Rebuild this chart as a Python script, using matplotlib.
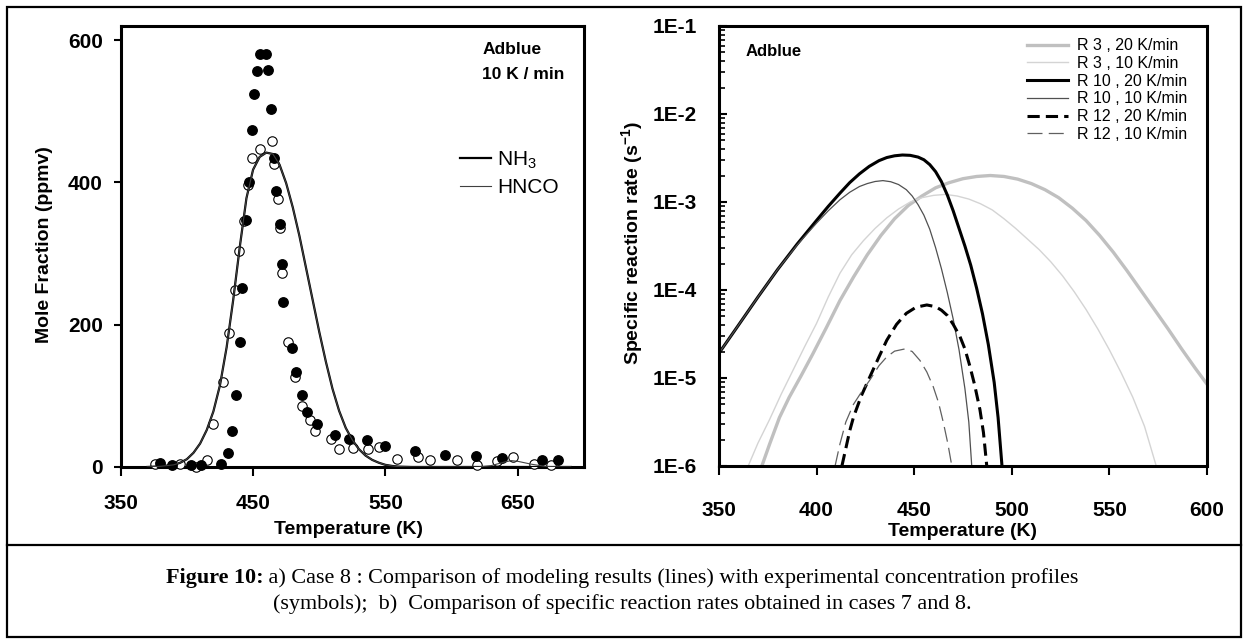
import matplotlib
matplotlib.use('Agg')
import matplotlib.pyplot as plt
from matplotlib.lines import Line2D
from matplotlib.patches import Rectangle
from matplotlib.ticker import LogLocator, NullFormatter

# ---- panel a) : experimental profiles (symbols) + model (lines) ----
nh3_T = [380, 389, 403, 411, 426, 431, 434, 437, 440, 441.6, 444.6, 447, 449, 450.9, 453, 455,
         459.9, 461, 463.4, 466, 467.6, 470.3, 471.8, 472.7, 479.6, 482.8, 486.7, 490.6, 498,
         511.8, 522.8, 536, 550, 572.4, 594.8, 618.7, 638, 668, 680]
nh3_ppm = [6, 3, 3, 3, 4, 19, 50, 101, 176, 251, 347, 401, 474, 525, 557, 580,
           581, 558, 503, 435, 388, 342, 285, 232, 168, 134, 101, 77, 60,
           45, 39, 38, 29, 22, 17, 15, 13, 10, 10]

hnco_T = [376, 395, 407, 415, 420, 427, 431.5, 436, 439, 443, 446, 449, 455, 464, 465.5, 469,
          470.3, 471.8, 476.6, 481.6, 487, 492.7, 497, 509, 515, 525.5, 536.6, 545.5, 559,
          574.5, 584, 604, 619, 634, 646, 662, 675]
hnco_ppm = [4, 4, 0, 10, 61, 120, 188, 249, 304, 346, 397, 434, 447, 459, 426, 377,
            336, 273, 176, 126, 86, 66, 50, 40, 25, 27, 26, 28, 11,
            14, 10, 10, 3, 8, 14, 4, 3]

model_T = [370, 380, 390, 395, 400, 405, 410, 415, 420, 425, 430, 435, 440, 445, 450, 455, 460,
           465, 470, 475, 480, 485, 490, 495, 500, 505, 510, 515, 520, 525, 530, 535, 540, 545,
           550, 555, 560, 570, 580, 590, 600, 610, 620, 630, 640, 645, 650, 660, 670, 680, 690]
nh3_model = [0, 1, 3, 6, 11, 20, 33, 52, 78, 115, 168, 235, 310, 378, 418, 436, 442,
             440, 425, 399, 365, 325, 280, 235, 190, 148, 110, 79, 55, 38, 25, 16, 10, 6,
             3, 1.5, 0.5, 0, 0, 0, 0, 0, 0, 0, 0, 0, 0, 0, 0, 0, 0]
hnco_model = [0, 1, 3, 6, 11, 20, 33, 52, 78, 115, 168, 235, 310, 378, 418, 436, 442,
              440, 425, 399, 365, 325, 280, 235, 190, 148, 110, 79, 55, 38, 25, 16, 10, 6,
              3, 1.5, 0.5, 0, 0, 0, 0, 0, 0, 2, 7, 9, 8, 4, 1, 0, 0]

# ---- panel b) : specific reaction rates (s-1) ----
r3_20_T = [372, 376, 381, 386, 392, 398, 405, 412, 419, 426, 433, 440, 447, 454, 461, 468, 475,
           482, 489, 496, 503, 510, 517, 524, 531, 538, 545, 552, 559, 566, 573, 580, 587, 594, 600]
r3_20 = [1.0e-6, 1.78e-6, 3.55e-6, 6.03e-6, 1.05e-5, 1.86e-5, 3.72e-5, 7.59e-5, 1.41e-4,
         2.51e-4, 4.17e-4, 6.46e-4, 9.12e-4, 1.17e-3, 1.45e-3, 1.66e-3, 1.84e-3, 1.95e-3,
         2.0e-3, 1.95e-3, 1.82e-3, 1.62e-3, 1.38e-3, 1.12e-3, 8.51e-4, 6.17e-4, 4.17e-4,
         2.69e-4, 1.66e-4, 1.0e-4, 6.03e-5, 3.63e-5, 2.14e-5, 1.29e-5, 8.51e-6]

r3_10_T = [365, 370, 376, 382, 388, 394, 400, 406, 412, 418, 424, 430, 436, 442, 448, 454, 460,
           466, 472, 478, 484, 490, 496, 502, 508, 514, 520, 526, 532, 538, 544, 550, 556, 562,
           568, 574]
r3_10 = [1.0e-6, 1.82e-6, 3.39e-6, 6.61e-6, 1.23e-5, 2.29e-5, 4.17e-5, 8.32e-5, 1.55e-4,
         2.51e-4, 3.63e-4, 5.01e-4, 6.61e-4, 8.32e-4, 1.0e-3, 1.12e-3, 1.19e-3, 1.22e-3,
         1.17e-3, 1.08e-3, 9.55e-4, 8.13e-4, 6.46e-4, 5.01e-4, 3.80e-4, 2.88e-4, 2.09e-4,
         1.45e-4, 9.55e-5, 6.03e-5, 3.63e-5, 2.09e-5, 1.15e-5, 6.03e-6, 2.82e-6, 1.0e-6]

r10_20_T = [350, 360, 370, 380, 390, 400, 406, 412, 417, 422, 427, 432, 436, 440, 444, 448, 452,
            455, 458, 461, 464, 467, 470, 473, 476, 479, 482, 485, 488, 491, 493, 495]
r10_20 = [1.91e-5, 3.98e-5, 8.32e-5, 1.70e-4, 3.31e-4, 6.17e-4, 8.91e-4, 1.26e-3, 1.66e-3,
          2.09e-3, 2.54e-3, 2.95e-3, 3.20e-3, 3.35e-3, 3.42e-3, 3.39e-3, 3.24e-3, 3.02e-3,
          2.66e-3, 2.21e-3, 1.70e-3, 1.20e-3, 7.94e-4, 5.01e-4, 3.16e-4, 1.91e-4, 1.05e-4,
          5.37e-5, 2.40e-5, 8.91e-6, 3.55e-6, 1.0e-6]

r10_10_T = [350, 360, 370, 380, 390, 400, 406, 412, 417, 422, 426, 430, 434, 438, 442, 446, 449,
            452, 455, 458, 461, 464, 467, 470, 473, 476, 478, 479.5]
r10_10 = [1.91e-5, 3.98e-5, 8.32e-5, 1.70e-4, 3.24e-4, 5.75e-4, 7.94e-4, 1.06e-3, 1.29e-3,
          1.50e-3, 1.62e-3, 1.71e-3, 1.75e-3, 1.70e-3, 1.58e-3, 1.38e-3, 1.17e-3, 9.33e-4,
          7.08e-4, 4.90e-4, 3.02e-4, 1.74e-4, 9.33e-5, 4.68e-5, 2.09e-5, 7.59e-6, 3.16e-6, 1.0e-6]

r12_20_T = [413, 415, 417, 419, 423, 427.4, 432, 436, 441, 446, 451, 456.5, 461, 464, 467, 470,
            473.5, 476, 478.6, 481, 483.7, 485.5, 487.2]
r12_20 = [1.0e-6, 1.58e-6, 2.51e-6, 3.63e-6, 6.31e-6, 1.04e-5, 1.74e-5, 2.69e-5, 4.07e-5,
          5.43e-5, 6.38e-5, 6.76e-5, 6.46e-5, 5.89e-5, 5.13e-5, 4.07e-5, 2.95e-5, 2.14e-5,
          1.35e-5, 8.32e-6, 4.37e-6, 2.40e-6, 1.0e-6]

r12_10_T = [409.5, 412, 415, 418.9, 423, 427.4, 432, 436, 440, 445.3, 449, 453, 456.5, 459.8,
            462.5, 465, 467.3, 469.3]
r12_10 = [1.0e-6, 1.78e-6, 3.16e-6, 5.01e-6, 6.92e-6, 9.55e-6, 1.38e-5, 1.74e-5, 2.02e-5,
          2.14e-5, 2.0e-5, 1.58e-5, 1.17e-5, 7.94e-6, 5.25e-6, 3.09e-6, 1.78e-6, 1.0e-6]

left_xticks = [350, 450, 550, 650]
left_yticks = [0, 200, 400, 600]
right_xticks = [350, 400, 450, 500, 550, 600]
right_yticks = [1e-6, 1e-5, 1e-4, 1e-3, 1e-2, 1e-1]
right_ylabels = ['1E-6', '1E-5', '1E-4', '1E-3', '1E-2', '1E-1']

plt.rcParams['font.family'] = ['Liberation Sans', 'DejaVu Sans']
plt.rcParams['mathtext.fontset'] = 'custom'
plt.rcParams['mathtext.rm'] = 'Liberation Sans'
plt.rcParams['mathtext.bf'] = 'Liberation Sans:bold'
plt.rcParams['mathtext.default'] = 'regular'

W, H = 1245, 639


def box(x0, y0, x1, y1):
    # pixel box (top-left origin) -> figure fraction
    return [x0 / W, 1 - y1 / H, (x1 - x0) / W, (y1 - y0) / H]


def fx(x):
    return x / W


def fy(y):
    return 1 - y / H


fig = plt.figure(figsize=(12.45, 6.39), dpi=100)
ax1 = fig.add_axes(box(120.7, 26, 584, 467))
ax2 = fig.add_axes(box(718.9, 26, 1207, 466))

# ---- left panel ----
ax1.plot(hnco_T, hnco_ppm, 'o', ms=6.8, mfc='white', mec='black', mew=0.8, clip_on=False, zorder=3)
ax1.plot(nh3_T, nh3_ppm, 'o', ms=6.8, mfc='black', mec='black', clip_on=False, zorder=4)
ax1.plot(model_T, nh3_model, color='black', lw=1.6, label='NH$_3$', zorder=5)
ax1.plot(model_T, hnco_model, color='#404040', lw=0.8, label='HNCO', zorder=5)
ax1.set_xlim(350, 700)
ax1.set_ylim(0, 620)
ax1.set_xticks(left_xticks)
ax1.set_yticks(left_yticks)
ax1.tick_params(axis='x', direction='out', length=6.5, width=1.5, labelsize=15, pad=13)
ax1.tick_params(axis='y', direction='out', length=5, width=1.5, labelsize=15, pad=8)
for lab in ax1.get_xticklabels() + ax1.get_yticklabels():
    lab.set_fontweight('bold')
for s in ax1.spines.values():
    s.set_linewidth(2.2)
ax1.legend(loc='upper left', bbox_to_anchor=(0.732, 0.72), frameon=False, fontsize=15,
           handlelength=1.5, handletextpad=0.3, labelspacing=0.35, borderpad=0, borderaxespad=0)
ax1.text(0.78, 0.946, 'Adblue', transform=ax1.transAxes, fontsize=12.5, fontweight='bold', va='center')
ax1.text(0.78, 0.891, '10 K / min', transform=ax1.transAxes, fontsize=12.5, fontweight='bold', va='center')

# ---- right panel ----
ax2.plot(r3_20_T, r3_20, color='#c0c0c0', lw=2.4, label='R 3 , 20 K/min')
ax2.plot(r3_10_T, r3_10, color='#d4d4d4', lw=1.0, label='R 3 , 10 K/min')
ax2.plot(r10_20_T, r10_20, color='black', lw=2.2, label='R 10 , 20 K/min')
ax2.plot(r10_10_T, r10_10, color='#505050', lw=0.9, label='R 10 , 10 K/min')
ax2.plot(r12_20_T, r12_20, color='black', lw=2.2, ls=(0, (4, 2)), label='R 12 , 20 K/min')
ax2.plot(r12_10_T, r12_10, color='#606060', lw=0.9, ls=(0, (12, 5)), label='R 12 , 10 K/min')
ax2.set_yscale('log')
ax2.set_xlim(350, 600)
ax2.set_ylim(1e-6, 1e-1)
ax2.set_xticks(right_xticks)
ax2.set_yticks(right_yticks)
ax2.set_yticklabels(right_ylabels)
ax2.yaxis.set_minor_locator(LogLocator(base=10, subs=range(2, 10)))
ax2.yaxis.set_minor_formatter(NullFormatter())
ax2.tick_params(axis='x', direction='out', length=6.2, width=1.5, labelsize=15, pad=19)
ax2.tick_params(axis='y', which='major', direction='in', length=6, width=1.5, labelsize=15, pad=16)
ax2.tick_params(axis='y', which='minor', direction='in', length=4, width=1.2)
for lab in ax2.get_xticklabels() + ax2.get_yticklabels():
    lab.set_fontweight('bold')
for s in ax2.spines.values():
    s.set_linewidth(2.2)
ax2.legend(loc='upper left', bbox_to_anchor=(0.631, 0.972), frameon=False, fontsize=11.5,
           handlelength=2.6, handletextpad=0.55, labelspacing=0.17, borderpad=0, borderaxespad=0)
ax2.text(0.054, 0.942, 'Adblue', transform=ax2.transAxes, fontsize=12, fontweight='bold', va='center')

# axis labels
fig.text(fx(45), fy(245), 'Mole Fraction (ppmv)', rotation=90, ha='center', va='center',
         fontsize=14, fontweight='bold')
fig.text(fx(349), fy(530), 'Temperature (K)', ha='center', va='center', fontsize=14, fontweight='bold')
fig.text(fx(632), fy(243), r'Specific reaction rate (s$^{\mathbf{-1}}$)', rotation=90, ha='center',
         va='center', fontsize=14, fontweight='bold')
fig.text(fx(962), fy(531), 'Temperature (K)', ha='center', va='center', fontsize=14, fontweight='bold')

# frame and separator
fig.add_artist(Rectangle((fx(7), fy(637)), fx(1241) - fx(7), fy(7) - fy(637), transform=fig.transFigure,
                         fill=False, lw=1.6, color='black'))
fig.add_artist(Line2D([fx(7), fx(1241)], [fy(545), fy(545)], transform=fig.transFigure, lw=1.6, color='black'))

# caption
cap_font = ['Liberation Serif', 'DejaVu Serif']
rest1 = ' a) Case 8 : Comparison of modeling results (lines) with experimental concentration profiles'
fig.canvas.draw()
r = fig.canvas.get_renderer()
tb = fig.text(0, fy(578), 'Figure 10:', family=cap_font, fontsize=15.9, fontweight='bold', va='center')
tr = fig.text(0, fy(578), rest1, family=cap_font, fontsize=15.9, va='center')
wb = tb.get_window_extent(r).width
wr = tr.get_window_extent(r).width
x0 = 622 - (wb + wr) / 2
tb.set_x(fx(x0))
tr.set_x(fx(x0 + wb))
fig.text(fx(622), fy(604), '(symbols);  b)  Comparison of specific reaction rates obtained in cases 7 and 8.',
         family=cap_font, fontsize=15.9, ha='center', va='center')

fig.savefig('out.png', dpi=100)
